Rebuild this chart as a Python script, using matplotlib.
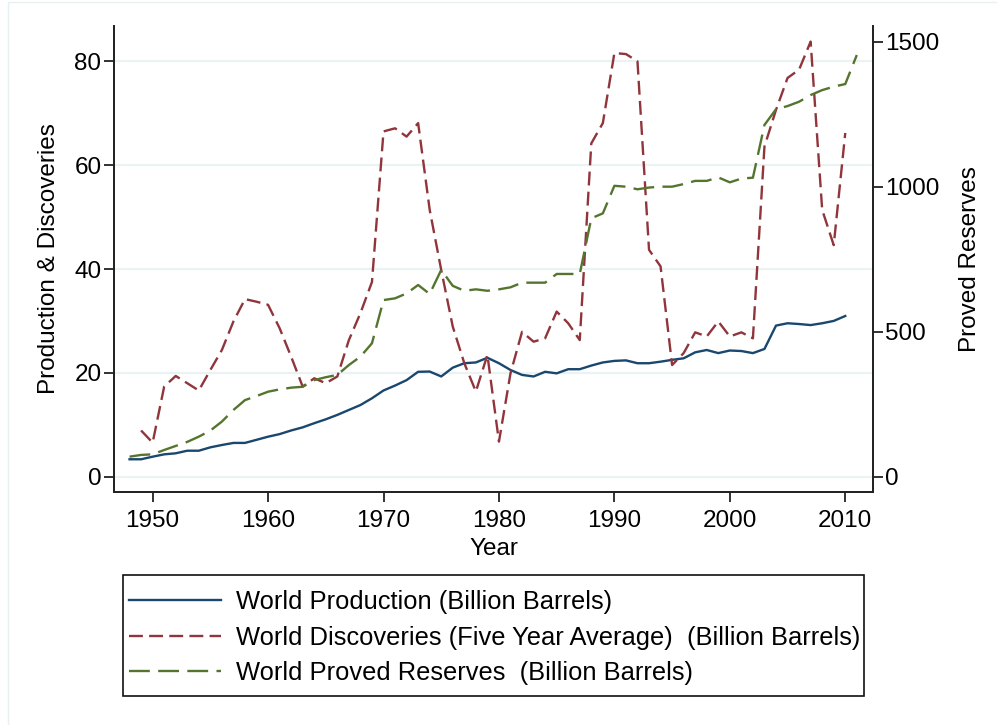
import matplotlib
matplotlib.use("Agg")
import matplotlib.pyplot as plt
from matplotlib.patches import Rectangle

plt.rcParams["font.family"] = ["Liberation Sans", "DejaVu Sans"]
plt.rcParams["lines.scale_dashes"] = False

# World oil: production, discoveries (5-yr average), proved reserves
prod_years = list(range(1948, 2011))
production = [3.35, 3.35, 3.85, 4.3, 4.5, 5.0, 5.0, 5.65, 6.1, 6.5,
              6.5, 7.1, 7.7, 8.2, 8.9, 9.5, 10.3, 11.05, 11.9, 12.85,
              13.8, 15.1, 16.6, 17.55, 18.6, 20.2, 20.25, 19.3, 21.0, 21.85,
              22.0, 22.9, 21.85, 20.55, 19.6, 19.3, 20.2, 19.9, 20.7, 20.7,
              21.4, 22.0, 22.3, 22.4, 21.85, 21.85, 22.15, 22.5, 22.8, 23.95,
              24.4, 23.8, 24.3, 24.2, 23.8, 24.6, 29.1, 29.55, 29.4, 29.2,
              29.55, 30.0, 30.95]

disc_years = list(range(1949, 2011))
discoveries = [8.9, 6.55, 17.35, 19.4, 18.0, 16.6, 20.55, 24.4, 29.9,
               34.2, 33.7, 33.1, 28.6, 23.1, 17.35, 18.95, 18.0, 19.3, 26.3,
               31.5, 37.5, 66.5, 67.1, 65.5, 68.1, 51.4, 39.8, 28.9, 21.85,
               16.4, 23.45, 6.75, 19.9, 27.9, 26.0, 26.65, 31.8, 29.55, 26.3,
               64.2, 68.1, 81.6, 81.4, 80.0, 43.7, 40.5, 21.5, 23.8, 27.8,
               27.0, 29.9, 27.0, 27.8, 26.65, 63.6, 70.65, 76.8, 78.4, 83.8,
               51.4, 44.6, 66.2]

res_years = list(range(1948, 2012))
reserves = [69, 75, 77, 92, 106, 120, 138, 159, 190, 230,
            264, 278, 293, 301, 307, 310, 333, 343, 351, 385,
            414, 460, 609, 615, 632, 661, 630, 713, 658, 641,
            646, 641, 646, 653, 669, 669, 669, 699, 699, 699,
            891, 908, 1003, 1000, 991, 997, 1000, 1000, 1009, 1020,
            1020, 1032, 1015, 1028, 1031, 1213, 1267, 1278, 1293, 1316,
            1333, 1345, 1354, 1454]

blue = "#1a476f"
red = "#90353b"
green = "#55752f"
fs = 17.5
lfs = 18.4

fig = plt.figure(figsize=(9.97, 7.25), dpi=100)
fig.patches.append(Rectangle((8 / 997, -0.1), 1.2, 1.1 - 2 / 725,
                             transform=fig.transFigure, fill=False,
                             edgecolor="#e8f0f2", lw=1))
ax = fig.add_axes([0.1143, 0.3214, 0.7613, 0.6427])
ax2 = ax.twinx()

l1, = ax.plot(prod_years, production, color=blue, lw=1.7)
l2, = ax.plot(disc_years, discoveries, color=red, lw=1.7)
l2.set_dashes([10, 4.5])
l3, = ax2.plot(res_years, reserves, color=green, lw=1.7)
l3.set_dashes([15, 6])

ax.set_xlim(1946.65, 2012.4)
ax.set_ylim(-2.95, 86.8)
ax2.set_ylim(-52.8, 1554)
ax.set_xticks(range(1950, 2011, 10))
ax.set_yticks([0, 20, 40, 60, 80])
ax2.set_yticks([0, 500, 1000, 1500])

ax.grid(axis="y", color="#eaf2f3", lw=1.6)
ax.set_axisbelow(True)

for a in (ax, ax2):
    a.spines["top"].set_visible(False)
    for s in ("left", "right", "bottom"):
        a.spines[s].set_color("#222222")
        a.spines[s].set_linewidth(1.3)
    a.tick_params(labelsize=fs, length=7, width=1.3, color="#222222", pad=2)
ax.tick_params(axis="x", pad=6)

ax.set_xlabel("Year", fontsize=fs, labelpad=4)
ax.set_ylabel("Production & Discoveries", fontsize=fs, labelpad=10)
ax2.set_ylabel("Proved Reserves", fontsize=fs, labelpad=14, rotation=90)

# legend box drawn separately so the entries can sit close to its left edge
fig.patches.append(Rectangle((123 / 997, 1 - 696 / 725), 741 / 997, 121 / 725,
                             transform=fig.transFigure, fill=False,
                             edgecolor="#111111", lw=1.2))
fig.legend([l1, l2, l3],
           ["World Production (Billion Barrels)",
            "World Discoveries (Five Year Average)  (Billion Barrels)",
            "World Proved Reserves  (Billion Barrels)"],
           loc="upper left", bbox_to_anchor=(129 / 997, 1 - 590 / 725),
           fontsize=lfs, frameon=False, handlelength=3.6,
           handletextpad=0.58, labelspacing=0.45, borderpad=0,
           borderaxespad=0)

fig.savefig("out.png", dpi=100)
